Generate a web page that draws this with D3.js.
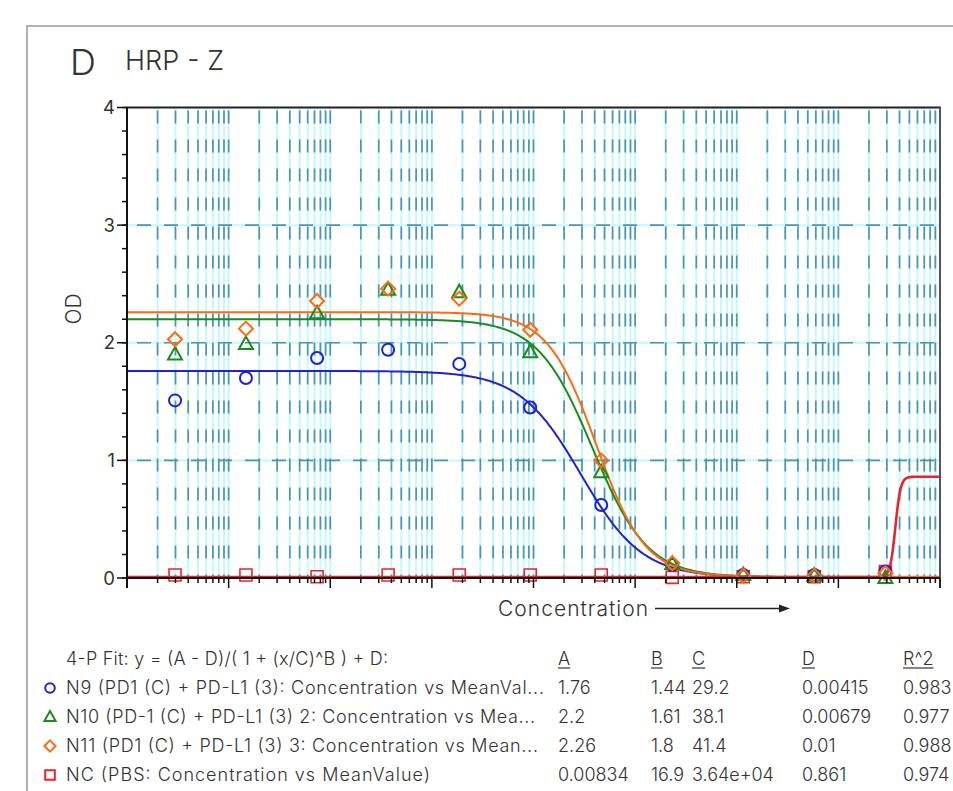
<!DOCTYPE html>
<html><head><meta charset="utf-8">
<script src="https://cdn.jsdelivr.net/npm/d3@7"></script>
<style>
body{margin:0;background:#fff}
text{font-family:Inter,"Open Sans",sans-serif;fill:#333}
</style>
</head><body>
<svg id="chart" width="953" height="791"></svg>
<script>
// ---------- data ----------
const concentrations = [0.00297, 0.0148, 0.0742, 0.371, 1.86, 9.28, 46.4, 232, 1160, 5800, 29000];
const n9Values  = [1.51, 1.70, 1.87, 1.94, 1.82, 1.45, 0.62, 0.11, 0.025, 0.025, 0.055];
const n10Values = [1.90, 1.99, 2.25, 2.45, 2.43, 1.92, 0.90, 0.12, 0.025, 0.02, 0.00];
const n11Values = [2.03, 2.12, 2.355, 2.46, 2.375, 2.11, 1.00, 0.125, 0.02, 0.02, 0.04];
const ncValues  = [0.025, 0.025, 0.01, 0.025, 0.025, 0.025, 0.025, 0.005, 0.01, 0.01, 0.055];
const seriesLabels = [
  "N9 (PD1 (C) + PD-L1 (3): Concentration vs MeanVal...",
  "N10 (PD-1 (C) + PD-L1 (3) 2: Concentration vs Mea...",
  "N11 (PD1 (C) + PD-L1 (3) 3: Concentration vs Mean...",
  "NC (PBS: Concentration vs MeanValue)"
];
const fitA = [1.76, 2.2, 2.26, 0.00834];
const fitB = [1.44, 1.61, 1.8, 16.9];
const fitC = [29.2, 38.1, 41.4, 36400];
const fitD = [0.00415, 0.00679, 0.01, 0.861];
const fitR2 = [0.983, 0.977, 0.988, 0.974];
const colA = ["1.76", "2.2", "2.26", "0.00834"];
const colB = ["1.44", "1.61", "1.8", "16.9"];
const colC = ["29.2", "38.1", "41.4", "3.64e+04"];
const colD = ["0.00415", "0.00679", "0.01", "0.861"];
const colR2 = ["0.983", "0.977", "0.988", "0.974"];
const columnHeaders = ["A", "B", "C", "D", "R^2"];
const yTicks = [0, 1, 2, 3, 4];
const xDomain = [0.001, 100000];

// ---------- styling ----------
const colors = ["#2020d8", "#1a8c1a", "#ff6a10", "#e8252a"];
const shapes = ["circle", "triangle", "diamond", "square"];
const allValues = [n9Values, n10Values, n11Values, ncValues];
const FW = 300;

const svg = d3.select("#chart");
const L = 127, R = 940, T = 107.5, B = 578;
const x = d3.scaleLog().domain(xDomain).range([L, R]);
const y = d3.scaleLinear().domain([0, 4]).range([B, T]);

// outer frame
svg.append("rect").attr("x", 27).attr("y", 26).attr("width", 1000).attr("height", 1000)
  .attr("fill", "none").attr("stroke", "#8a8a8a").attr("stroke-width", 1.3);

// title
svg.append("text").attr("x", 70).attr("y", 75).attr("font-size", 36).attr("font-weight", FW).text("D");
svg.append("text").attr("x", 125).attr("y", 70).attr("font-size", 27).attr("font-weight", FW)
  .attr("textLength", 99).text("HRP - Z");

// ---------- grid ----------
const grid = svg.append("g");
const xt = x.ticks().filter(v => v > xDomain[0] * 1.0001 && v < xDomain[1] * 0.9999);
const hLines = yTicks.filter(v => v > 0 && v < 4);
grid.selectAll(".vc").data(xt).join("line")
  .attr("x1", d => x(d)).attr("x2", d => x(d)).attr("y1", T).attr("y2", B)
  .attr("stroke", "#c4f8fb").attr("stroke-width", 2);
grid.selectAll(".hc").data(hLines).join("line")
  .attr("x1", L).attr("x2", R).attr("y1", d => y(d)).attr("y2", d => y(d))
  .attr("stroke", "#c4f8fb").attr("stroke-width", 2);
grid.selectAll(".vd").data(xt).join("line")
  .attr("x1", d => x(d)).attr("x2", d => x(d)).attr("y1", T).attr("y2", B)
  .attr("stroke", "#4d93b6").attr("stroke-width", 1.7).attr("stroke-dasharray", "13,16").attr("stroke-dashoffset", -3);
grid.selectAll(".hd").data(hLines).join("line")
  .attr("x1", L).attr("x2", R).attr("y1", d => y(d)).attr("y2", d => y(d))
  .attr("stroke", "#4d93b6").attr("stroke-width", 1.7).attr("stroke-dasharray", "14,13").attr("stroke-dashoffset", -10);

// ---------- fitted curves ----------
const samples = d3.range(L, R + 0.5, 1).map(px => x.invert(px));
const line = d3.line().x(d => x(d[0])).y(d => y(d[1]));
const fitPts = i => samples.map(c => [c, (fitA[i] - fitD[i]) / (1 + Math.pow(c / fitC[i], fitB[i])) + fitD[i]]);
[0, 1, 2, 3].forEach(i => {
  svg.append("path").datum(fitPts(i)).attr("d", line).attr("fill", "none")
    .attr("stroke", colors[i]).attr("stroke-width", i === 3 ? 2.6 : 2);
});

// ---------- markers ----------
function markerPath(shape, s) {
  if (shape === "triangle") return `M0,${-7.5*s}L${7*s},${5*s}L${-7*s},${5*s}Z`;
  if (shape === "diamond") return `M0,${-7*s}L${7*s},0L0,${7*s}L${-7*s},0Z`;
  return `M${-6*s},${-6*s}H${6*s}V${6*s}H${-6*s}Z`;
}
function drawMarker(g, shape, color, cx, cy, s, sw) {
  if (shape === "circle") {
    g.append("circle").attr("cx", cx).attr("cy", cy).attr("r", 6 * s)
      .attr("fill", "none").attr("stroke", color).attr("stroke-width", sw);
  } else {
    g.append("path").attr("d", markerPath(shape, s)).attr("transform", `translate(${cx},${cy})`)
      .attr("fill", "none").attr("stroke", color).attr("stroke-width", sw);
  }
}
const mg = svg.append("g");
[3, 0, 1, 2].forEach(i => {
  allValues[i].forEach((v, k) => drawMarker(mg, shapes[i], colors[i], x(concentrations[k]), y(v), 1, i === 3 ? 1.6 : 2));
});

// ---------- axes ----------
const ax = svg.append("g");
ax.append("line").attr("x1", L).attr("x2", R + 1).attr("y1", T).attr("y2", T).attr("stroke", "#222").attr("stroke-width", 2);
ax.append("line").attr("x1", R).attr("x2", R).attr("y1", T).attr("y2", B + 10).attr("stroke", "#555").attr("stroke-width", 2);
const yMinor = d3.range(0, 4.001, 0.2);
ax.append("line").attr("x1", L).attr("x2", L).attr("y1", T).attr("y2", B + 10).attr("stroke", "#111").attr("stroke-width", 2);
ax.selectAll(".ymin").data(yMinor).join("line")
  .attr("x1", L - 5).attr("x2", L).attr("y1", d => y(d)).attr("y2", d => y(d)).attr("stroke", "#111").attr("stroke-width", 1.5);
ax.selectAll(".ymaj").data(yTicks).join("line")
  .attr("x1", L - 10).attr("x2", L).attr("y1", d => y(d)).attr("y2", d => y(d)).attr("stroke", "#111").attr("stroke-width", 1.5);
ax.selectAll(".ylab").data(yTicks).join("text")
  .attr("x", L - 12).attr("y", d => y(d) + 6.5).attr("text-anchor", "end").attr("font-size", 18.5).attr("font-weight", 400).text(d => d);
ax.append("line").attr("x1", L).attr("x2", R).attr("y1", B).attr("y2", B).attr("stroke", "#111").attr("stroke-width", 2);
const allX = x.ticks();
const isDecade = d => Math.abs(Math.log10(d) - Math.round(Math.log10(d))) < 1e-9;
ax.selectAll(".xt").data(allX).join("line")
  .attr("x1", d => x(d)).attr("x2", d => x(d)).attr("y1", B).attr("y2", d => B + (isDecade(d) ? 10 : 5))
  .attr("stroke", "#111").attr("stroke-width", 1.5);

// axis titles
svg.append("text").attr("transform", "translate(81,309) rotate(-90)").attr("text-anchor", "middle")
  .attr("font-size", 21).attr("font-weight", FW).text("OD");
svg.append("text").attr("x", 498).attr("y", 616).attr("font-size", 21).attr("font-weight", FW)
  .attr("textLength", 150).text("Concentration");
svg.append("line").attr("x1", 655).attr("x2", 780).attr("y1", 608.5).attr("y2", 608.5).attr("stroke", "#222").attr("stroke-width", 1.4);
svg.append("path").attr("d", "M779,604.5L790,608.5L779,612.5Z").attr("fill", "#222");

// ---------- legend / fit table ----------
const lg = svg.append("g");
const rowY = [665, 694, 723, 752, 781];
const rowEnds = [544, 535, 538, 430];
const LF = 18;
lg.append("text").attr("x", 66).attr("y", rowY[0]).attr("font-size", LF).attr("font-weight", FW)
  .attr("textLength", 322).text("4-P Fit: y = (A - D)/( 1 + (x/C)^B ) + D:");
const colX = [558, 651, 692, 802, 903];
columnHeaders.forEach((h, j) => {
  const t = lg.append("text").attr("x", colX[j]).attr("y", rowY[0]).attr("font-size", LF).attr("font-weight", FW).text(h);
  const w = t.node().getComputedTextLength();
  lg.append("line").attr("x1", colX[j]).attr("x2", colX[j] + w).attr("y1", rowY[0] + 3).attr("y2", rowY[0] + 3)
    .attr("stroke", "#333").attr("stroke-width", 1.2);
});
seriesLabels.forEach((lab, i) => {
  const yy = rowY[i + 1];
  drawMarker(lg, shapes[i], colors[i], 50, yy - 6, 0.8, 2);
  lg.append("text").attr("x", 66).attr("y", yy).attr("font-size", LF).attr("font-weight", FW)
    .attr("textLength", rowEnds[i] - 66).text(lab);
  [colA, colB, colC, colD, colR2].forEach((col, j) => {
    lg.append("text").attr("x", colX[j]).attr("y", yy).attr("font-size", LF).attr("font-weight", FW).text(col[i]);
  });
});
</script>
</body></html>
